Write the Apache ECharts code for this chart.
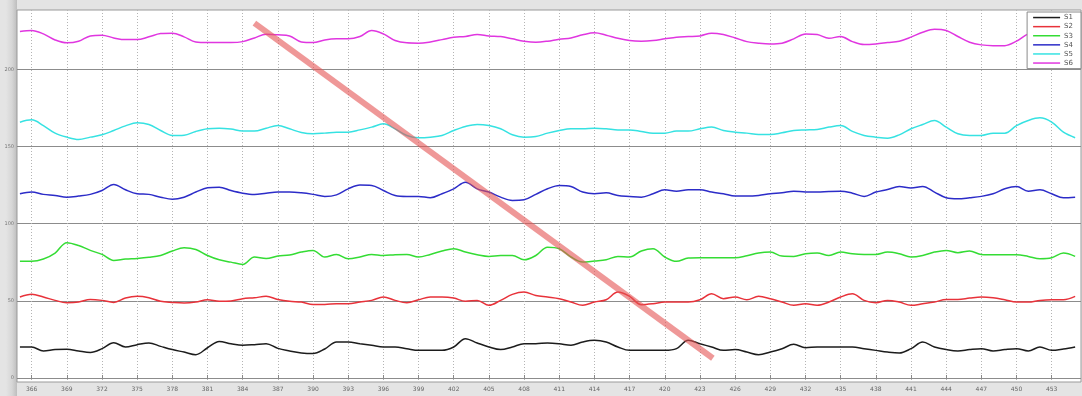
<!DOCTYPE html>
<html>
<head>
<meta charset="utf-8">
<title>S1–S6 traces</title>
<script src="https://cdn.jsdelivr.net/npm/echarts@6/dist/echarts.min.js"></script>
<style>
  html, body { margin: 0; padding: 0; background: #e4e4e4; }
  #chart { width: 1082px; height: 396px; }
</style>
</head>
<body>
<div id="chart"></div>
<script>
// Sample positions along the horizontal axis
const sampleTimes = [
  365, 366, 367, 368, 369, 370, 371, 372, 373, 374, 375, 376, 377, 378, 379, 380,
  381, 382, 383, 384, 385, 386, 387, 388, 389, 390, 391, 392, 393, 394, 395, 396,
  397, 398, 399, 400, 401, 402, 403, 404, 405, 406, 407, 408, 409, 410, 411, 412,
  413, 414, 415, 416, 417, 418, 419, 420, 421, 422, 423, 424, 425, 426, 427, 428,
  429, 430, 431, 432, 433, 434, 435, 436, 437, 438, 439, 440, 441, 442, 443, 444,
  445, 446, 447, 448, 449, 450, 451, 452, 453, 454, 455
];

const seriesNames = ['S1', 'S2', 'S3', 'S4', 'S5', 'S6'];

const s1 = [
  20.1, 20.1, 17.5, 18.4, 18.6, 17.5, 16.6, 19.0, 22.9, 20.1, 21.6, 22.7, 20.5, 18.4, 16.8, 15.1,
  19.6, 23.7, 22.2, 21.2, 21.6, 22.2, 19.2, 17.5, 16.2, 15.8, 18.8, 23.3, 23.3, 22.2,
  21.2, 20.1, 20.1, 19.0, 17.9, 17.9, 17.9, 20.1, 25.5, 22.7, 20.1, 18.4, 20.1, 22.2, 22.2, 22.7,
  22.2, 21.2, 23.3, 24.4, 23.3, 20.1, 17.9, 17.9, 17.9, 17.9, 19.0, 24.4, 22.2, 20.1, 17.9,
  18.4, 16.8, 15.1, 16.8, 19.0, 21.8, 19.6, 20.1, 20.1, 20.1, 20.1, 19.0, 17.9, 16.8, 16.2,
  19.0, 23.3, 20.1, 18.4, 17.5, 18.4, 19.0, 17.5, 18.4, 19.0, 17.5, 20.1, 17.9, 18.8, 20.1
];
const s2 = [
  52.5, 54.2, 52.5, 50.3, 48.8, 49.2, 50.9, 50.3, 49.0, 51.8, 52.9, 52.0, 49.7, 49.0, 48.6, 49.2,
  50.7, 49.7, 49.9, 51.4, 52.0, 52.9, 50.9, 49.7, 49.2, 47.7, 47.7, 48.1, 48.1, 49.2,
  50.3, 52.5, 50.3, 48.8, 50.7, 52.5, 52.5, 51.8, 49.7, 50.3, 47.1, 50.3, 54.2, 55.7, 53.5, 52.5,
  51.4, 49.2, 47.1, 49.2, 50.7, 55.7, 52.9, 47.5, 48.1, 49.2, 49.2, 49.2, 50.7, 54.6, 51.4,
  52.5, 50.7, 52.9, 51.4, 49.2, 47.1, 48.1, 47.1, 49.2, 52.5, 54.6, 50.3, 48.8, 50.3, 49.2,
  47.1, 48.1, 49.2, 50.9, 50.9, 51.8, 52.5, 52.0, 50.7, 49.2, 49.2, 50.3, 50.7, 50.7, 52.9
];
const s3 = [
  75.6, 75.6, 77.1, 81.0, 87.7, 85.9, 82.7, 80.1, 76.2, 77.1, 77.5, 78.2, 79.4, 82.3, 84.4, 83.3,
  79.4, 76.6, 75.1, 73.6, 78.4, 77.5, 79.0, 79.7, 81.6, 82.7, 78.4, 80.1, 77.3, 78.4,
  80.1, 79.4, 79.9, 80.1, 78.4, 80.1, 82.3, 83.8, 81.6, 79.9, 78.8, 79.4, 79.4, 76.6, 79.4, 84.8,
  83.8, 78.4, 75.1, 75.8, 76.6, 78.8, 78.4, 82.3, 83.8, 78.4, 75.6, 77.7, 77.9, 77.9, 77.9,
  77.9, 79.2, 81.0, 81.6, 79.0, 78.8, 80.5, 81.0, 79.4, 81.6, 80.5, 80.1, 80.1, 81.6, 80.5,
  78.4, 79.4, 81.6, 82.7, 81.2, 82.3, 80.1, 79.9, 79.9, 79.9, 78.8, 77.3, 77.9, 81.0, 78.8
];
const s4 = [
  119.4, 120.5, 119.0, 118.3, 117.2, 117.9, 119.0, 121.5, 125.4, 122.0, 119.4, 119.0, 117.2, 115.9, 117.2, 120.5,
  123.3, 123.7, 121.5, 119.8, 119.0, 119.8, 120.5, 120.5, 120.0, 119.0, 117.7, 118.7, 122.6, 125.0,
  124.8, 121.5, 118.3, 117.7, 117.7, 116.8, 119.4, 122.6, 126.9, 122.6, 120.5, 117.2, 115.1, 115.5, 119.0, 122.6,
  124.8, 124.1, 120.5, 119.4, 120.0, 118.3, 117.7, 117.2, 119.4, 122.0, 121.1, 122.0, 122.0, 120.5, 119.4,
  117.9, 117.9, 118.3, 119.4, 120.0, 121.1, 120.5, 120.5, 120.9, 121.1, 119.8, 117.7, 120.5, 122.2, 124.1,
  123.1, 124.1, 120.5, 116.8, 116.1, 116.8, 117.7, 119.4, 122.6, 124.1, 121.1, 122.0, 119.4, 116.8, 117.2
];
const s5 = [
  165.8, 167.3, 163.6, 158.7, 156.1, 154.6, 156.1, 157.6, 160.4, 163.4, 165.4, 164.3, 160.4, 157.2, 157.4, 159.8,
  161.5, 161.9, 161.3, 160.0, 160.0, 161.9, 163.6, 161.5, 159.1, 158.3, 158.7, 159.3, 159.3, 160.8,
  162.6, 164.7, 161.5, 157.2, 155.7, 156.1, 157.2, 160.4, 163.0, 164.3, 163.6, 161.5, 157.6, 156.1, 156.5, 158.7,
  160.4, 161.5, 161.5, 161.9, 161.5, 160.8, 160.8, 159.8, 158.7, 158.7, 160.0, 160.0, 161.5, 162.6, 160.4,
  159.3, 158.7, 157.8, 157.8, 158.9, 160.4, 160.8, 161.1, 162.6, 163.6, 159.8, 157.2, 156.1, 155.4, 157.6,
  161.5, 164.3, 166.9, 162.6, 158.3, 157.2, 157.2, 158.7, 158.7, 163.6, 166.9, 168.6, 165.8, 159.3, 155.7
];
const s6 = [
  224.5, 225.2, 223.0, 219.1, 217.2, 218.2, 221.7, 222.2, 220.4, 219.3, 219.3, 221.1, 223.2, 223.5, 221.1, 217.8,
  217.4, 217.4, 217.4, 218.0, 220.4, 222.8, 222.4, 221.7, 217.8, 217.4, 219.1, 219.8, 219.8, 221.3,
  225.2, 223.0, 218.7, 217.2, 217.0, 217.8, 219.3, 220.9, 221.3, 222.6, 221.7, 221.3, 219.8, 218.3, 217.6, 218.3,
  219.6, 220.4, 222.4, 223.7, 222.2, 220.2, 218.7, 218.3, 218.7, 219.8, 220.9, 221.3, 221.7, 223.5, 222.6,
  220.4, 218.0, 217.0, 216.5, 217.0, 219.8, 223.0, 222.6, 220.2, 221.3, 218.0, 216.1, 216.5, 217.4, 218.3,
  220.9, 224.1, 226.0, 225.2, 221.3, 217.6, 215.9, 215.4, 215.4, 218.3, 223.0, 224.1, 224.8, 224.1, 224.1
];

// Hand-drawn diagonal stroke laid over the traces (data coordinates)
const strokeTimes = [385.0, 424.1];
const strokeLevels = [230.0, 12.8];

// Axis tick labels
const timeTicks = [366, 369, 372, 375, 378, 381, 384, 387, 390, 393, 396, 399, 402, 405, 408,
                   411, 414, 417, 420, 423, 426, 429, 432, 435, 438, 441, 444, 447, 450, 453];
const levelTicks = [0, 50, 100, 150, 200];

const traceColors = ['#1c1c1c', '#e8323a', '#34dc34', '#2c2cc8', '#36e2e2', '#e036e0'];
const traces = [s1, s2, s3, s4, s5, s6];

function pairs(xs, ys) {
  return xs.map((x, i) => [x, ys[i]]);
}

const series = traces.map((vals, i) => ({
  name: seriesNames[i],
  type: 'line',
  data: pairs(sampleTimes, vals),
  symbol: 'none',
  smooth: 0.35,
  lineStyle: { color: traceColors[i], width: 1.5 },
  itemStyle: { color: traceColors[i] },
  z: 3
}));

series.push({
  name: 'stroke',
  type: 'line',
  data: pairs(strokeTimes, strokeLevels),
  symbol: 'none',
  silent: true,
  lineStyle: { color: 'rgba(228, 84, 84, 0.6)', width: 6, cap: 'butt' },
  z: 5
});

const chart = echarts.init(document.getElementById('chart'), null, { renderer: 'canvas' });
chart.setOption({
  animation: false,
  backgroundColor: '#e4e4e4',
  // bevelled frame strip along the left edge of the plot
  graphic: [{
    type: 'rect',
    left: 6, top: 0,
    shape: { width: 11, height: 396 },
    style: {
      fill: new echarts.graphic.LinearGradient(0, 0, 1, 0, [
        { offset: 0, color: '#e4e4e4' },
        { offset: 0.55, color: '#d6d6d6' },
        { offset: 1, color: '#bdbdbd' }
      ])
    },
    z: -1,
    silent: true
  }],
  grid: {
    left: 17, right: 1, top: 10, bottom: 14,
    containLabel: false,
    outerBoundsMode: 'none',
    show: true,
    backgroundColor: '#ffffff',
    borderColor: '#9a9a9a',
    borderWidth: 1
  },
  legend: {
    data: seriesNames,
    orient: 'vertical',
    right: 1,
    top: 12,
    backgroundColor: '#ffffff',
    borderColor: '#8a8a8a',
    borderWidth: 1,
    borderRadius: 0,
    padding: [1, 8, 1, 6],
    itemGap: 0,
    itemWidth: 27,
    itemHeight: 1.5,
    icon: 'rect',
    textStyle: { fontSize: 7, lineHeight: 9.1, color: '#555', fontFamily: 'DejaVu Sans', padding: [0, 0, 0, -1] }
  },
  xAxis: {
    type: 'value',
    min: 364.75,
    max: 455.5,
    axisLine: { show: false },
    axisTick: { show: true, customValues: timeTicks, inside: true, length: 3, lineStyle: { color: '#888' } },
    axisLabel: { customValues: timeTicks, fontSize: 6, color: '#666', margin: 4, fontFamily: 'DejaVu Sans' },
    splitLine: { show: true, lineStyle: { color: '#b4b4b4', type: [1, 2], width: 1 } }
  },
  yAxis: {
    type: 'value',
    min: -2.6,
    max: 238.5,
    axisLine: { show: false },
    axisTick: { show: true, customValues: levelTicks, inside: true, length: 3, lineStyle: { color: '#888' } },
    axisLabel: { customValues: levelTicks, fontSize: 5, color: '#777', margin: 3, fontFamily: 'DejaVu Sans' },
    splitLine: { show: true, lineStyle: { color: '#8c8c8c', type: 'solid', width: 1 } }
  },
  series: series
});
</script>
</body>
</html>
